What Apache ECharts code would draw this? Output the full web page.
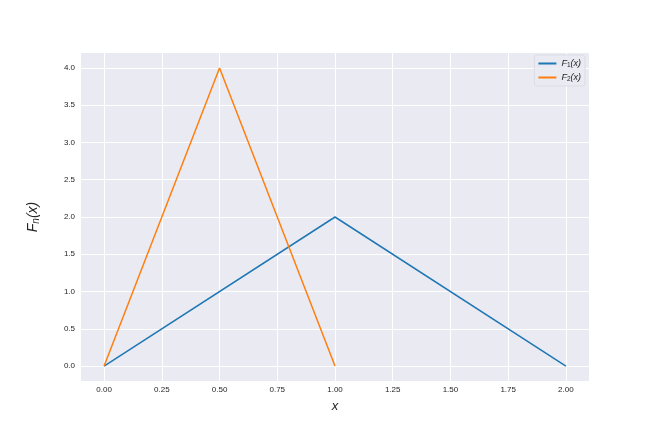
<!DOCTYPE html>
<html><head><meta charset="utf-8">
<script src="https://cdn.jsdelivr.net/npm/echarts@6/dist/echarts.min.js"></script>
<style>html,body{margin:0;padding:0;background:#fff}#c{width:654px;height:436px}</style>
</head><body><div id="c"></div>
<script>
const f1X = [0, 1, 2];
const f1Y = [0, 2, 0];
const f2X = [0, 0.5, 1];
const f2Y = [0, 4, 0];
const xTicks = [0, 0.25, 0.5, 0.75, 1.0, 1.25, 1.5, 1.75, 2.0];
const yTicks = [0, 0.5, 1.0, 1.5, 2.0, 2.5, 3.0, 3.5, 4.0];

const chart = echarts.init(document.getElementById('c'), null, {renderer: 'canvas'});
const font = 'Liberation Sans';
chart.setOption({
  backgroundColor: '#fff',
  animation: false,
  grid: {left: 81, right: 65, top: 53, bottom: 55, show: true, backgroundColor: '#EAEAF2', borderWidth: 0},
  legend: {
    right: 69, top: 55, orient: 'vertical', itemWidth: 18, itemHeight: 2, itemGap: 4,
    padding: [4, 4, 3, 4], backgroundColor: 'rgba(234,234,242,0.8)', borderColor: '#dcdce4', borderWidth: 1, borderRadius: 3,
    icon: 'rect',
    data: ['F1', 'F2'],
    formatter: function (n) { return '{i|F}{s|' + n.slice(1) + '}{i|(x)}'; },
    textStyle: {
      fontFamily: font, fontSize: 9, color: '#262626',
      rich: {
        i: {fontStyle: 'italic', fontFamily: font, fontSize: 9, color: '#262626'},
        s: {fontFamily: font, fontSize: 6.5, color: '#262626', verticalAlign: 'bottom', padding: [4, 0, 0, 0]}
      }
    }
  },
  xAxis: {
    type: 'value', min: -0.1, max: 2.1,
    axisLine: {show: false},
    axisTick: {show: false, customValues: xTicks},
    splitLine: {show: true, lineStyle: {color: '#fff', width: 1}},
    axisLabel: {
      fontFamily: font, fontSize: 8, color: '#262626', margin: 5,
      customValues: xTicks,
      formatter: v => v.toFixed(2)
    },
    name: 'x', nameLocation: 'middle', nameGap: 19,
    nameTextStyle: {fontFamily: font, fontSize: 13, fontStyle: 'italic', color: '#262626'}
  },
  yAxis: {
    type: 'value', min: -0.2, max: 4.2,
    axisLine: {show: false},
    axisTick: {show: false, customValues: yTicks},
    splitLine: {show: true, lineStyle: {color: '#fff', width: 1}},
    axisLabel: {
      fontFamily: font, fontSize: 8, color: '#262626', margin: 6,
      customValues: yTicks,
      formatter: v => v.toFixed(1)
    },
    name: '{i|F}{s|n}{i|(x)}', nameLocation: 'middle', nameGap: 40, nameRotate: 90,
    nameTextStyle: {
      fontFamily: font, fontSize: 14, color: '#262626',
      rich: {
        i: {fontStyle: 'italic', fontFamily: font, fontSize: 14, color: '#262626'},
        s: {fontStyle: 'italic', fontFamily: font, fontSize: 10, color: '#262626', verticalAlign: 'bottom', padding: [6, 0, 0, 0]}
      }
    }
  },
  series: [
    {name: 'F1', type: 'line', data: f1X.map((x, i) => [x, f1Y[i]]), showSymbol: false, symbol: 'none',
     lineStyle: {color: '#1f77b4', width: 1.5}, itemStyle: {color: '#1f77b4'}},
    {name: 'F2', type: 'line', data: f2X.map((x, i) => [x, f2Y[i]]), showSymbol: false, symbol: 'none',
     lineStyle: {color: '#ff7f0e', width: 1.5}, itemStyle: {color: '#ff7f0e'}}
  ]
});
</script></body></html>
